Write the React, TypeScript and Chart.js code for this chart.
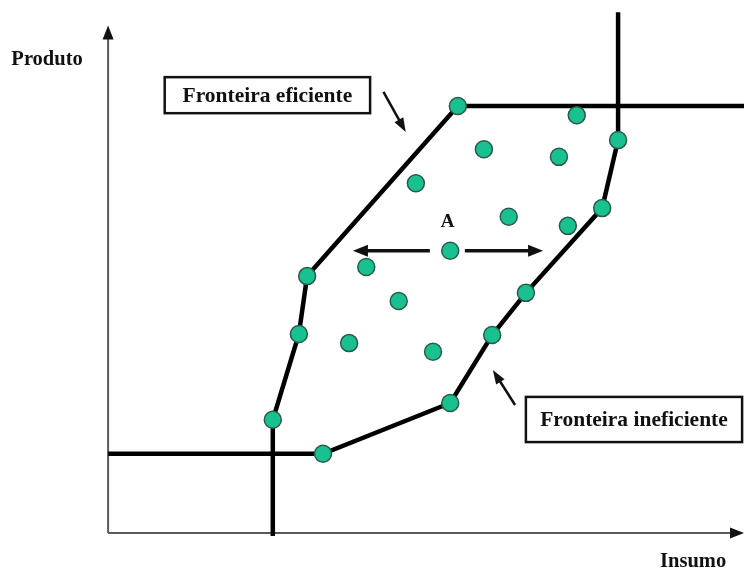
import React, { useEffect, useRef } from "react";
import { Chart, registerables } from "chart.js";

Chart.register(...registerables);

// DMU observations (Insumo, Produto)
const dmuInsumo = [55.0, 73.7, 80.2, 59.1, 70.9, 48.4, 77.7, 63.0, 72.3, 53.8, 31.3, 40.6, 65.7, 45.7, 30.0, 60.4, 37.9, 51.1, 53.8, 25.9, 33.8];
const dmuProduto = [84.1, 82.3, 77.4, 75.6, 74.1, 68.9, 64.0, 62.3, 60.5, 55.6, 50.6, 52.4, 47.3, 45.7, 39.2, 39.0, 37.4, 35.7, 25.6, 22.3, 15.6];

// Efficient frontier path
const efiInsumo = [25.9, 25.9, 30.0, 31.3, 55.0, 100];
const efiProduto = [-0.6, 22.3, 39.2, 50.6, 84.1, 84.1];

// Inefficient frontier path
const inefInsumo = [0, 33.8, 53.8, 60.4, 65.7, 77.7, 80.2, 80.2];
const inefProduto = [15.6, 15.6, 25.6, 39.0, 47.3, 64.0, 77.4, 102.6];

// Axes
const axisXInsumo = [0, 98.5];
const axisXProduto = [0, 0];
const axisYInsumo = [0, 0];
const axisYProduto = [0, 98.8];

// Texts
const axisLabels = [
  { text: "Produto", x: -9.6, y: 93.2 },
  { text: "Insumo", x: 92.0, y: -5.7 },
];
const pointLabel = { text: "A", x: 53.4, y: 61.3 };

const boxes = [
  { text: "Fronteira eficiente", x1: 8.9, y1: 89.8, x2: 41.2, y2: 82.7 },
  { text: "Fronteira ineficiente", x1: 65.7, y1: 26.8, x2: 99.7, y2: 17.9 },
];

// Arrows: [fromX, fromY, toX, toY]
const labelArrows = [
  [43.3, 86.9, 46.8, 79.0],
  [64.0, 25.2, 60.5, 32.1],
];
const doubleArrows = [
  [50.6, 55.6, 38.5, 55.6],
  [56.1, 55.6, 68.4, 55.6],
];
const axisArrowTips = [
  [0, 90, 0, 100],
  [90, 0, 100, 0],
];

const toXY = (xs: number[], ys: number[]) => xs.map((x, i) => ({ x, y: ys[i] }));

function drawArrowHead(ctx: CanvasRenderingContext2D, fx: number, fy: number, tx: number, ty: number, len: number, wid: number) {
  const ang = Math.atan2(ty - fy, tx - fx);
  ctx.save();
  ctx.translate(tx, ty);
  ctx.rotate(ang);
  ctx.beginPath();
  ctx.moveTo(0, 0);
  ctx.lineTo(-len, -wid / 2);
  ctx.lineTo(-len, wid / 2);
  ctx.closePath();
  ctx.fill();
  ctx.restore();
}

const annotPlugin = {
  id: "annot",
  afterDatasetsDraw(chart: any) {
    const ctx: CanvasRenderingContext2D = chart.ctx;
    const xs = chart.scales.x;
    const ys = chart.scales.y;
    const px = (v: number) => xs.getPixelForValue(v);
    const py = (v: number) => ys.getPixelForValue(v);
    ctx.save();
    ctx.fillStyle = "#111";
    ctx.strokeStyle = "#111";

    // axis arrow heads
    for (const a of axisArrowTips) {
      drawArrowHead(ctx, px(a[0]), py(a[1]), px(a[2]), py(a[3]), 14, 11);
    }

    // label arrows
    ctx.lineWidth = 2.5;
    for (const a of labelArrows) {
      const fx = px(a[0]), fy = py(a[1]), tx = px(a[2]), ty = py(a[3]);
      const ang = Math.atan2(ty - fy, tx - fx);
      ctx.beginPath();
      ctx.moveTo(fx, fy);
      ctx.lineTo(tx - Math.cos(ang) * 8, ty - Math.sin(ang) * 8);
      ctx.stroke();
      drawArrowHead(ctx, fx, fy, tx, ty, 14, 10);
    }

    // double arrows
    ctx.lineWidth = 3.5;
    for (const a of doubleArrows) {
      const fx = px(a[0]), fy = py(a[1]), tx = px(a[2]), ty = py(a[3]);
      const ang = Math.atan2(ty - fy, tx - fx);
      ctx.beginPath();
      ctx.moveTo(fx, fy);
      ctx.lineTo(tx - Math.cos(ang) * 10, ty - Math.sin(ang) * 10);
      ctx.stroke();
      drawArrowHead(ctx, fx, fy, tx, ty, 15, 12);
    }

    // boxes
    ctx.lineWidth = 2.5;
    ctx.textAlign = "center";
    ctx.textBaseline = "middle";
    ctx.font = "bold 21.5px 'Liberation Serif', 'DejaVu Serif', serif";
    for (const b of boxes) {
      const x1 = px(b.x1), y1 = py(b.y1), x2 = px(b.x2), y2 = py(b.y2);
      ctx.fillStyle = "#ffffff";
      ctx.fillRect(x1, y1, x2 - x1, y2 - y1);
      ctx.strokeRect(x1, y1, x2 - x1, y2 - y1);
      ctx.fillStyle = "#111";
      ctx.fillText(b.text, (x1 + x2) / 2, (y1 + y2) / 2 + 1);
    }

    ctx.font = "bold 20.5px 'Liberation Serif', 'DejaVu Serif', serif";
    for (const l of axisLabels) {
      ctx.fillText(l.text, px(l.x), py(l.y));
    }
    ctx.font = "bold 19px 'Liberation Serif', 'DejaVu Serif', serif";
    ctx.fillText(pointLabel.text, px(pointLabel.x), py(pointLabel.y));
    ctx.restore();
  },
};

export default function App() {
  const ref = useRef<HTMLCanvasElement | null>(null);
  useEffect(() => {
    if (!ref.current) return;
    const chart = new Chart(ref.current, {
      type: "scatter",
      data: {
        datasets: [
          {
            label: "DMUs",
            data: toXY(dmuInsumo, dmuProduto),
            pointRadius: 8.5,
            pointBorderWidth: 1.5,
            pointBackgroundColor: "#19c190",
            pointBorderColor: "#2b5a4c",
            showLine: false,
          },
          {
            label: "Fronteira eficiente",
            data: toXY(efiInsumo, efiProduto),
            showLine: true,
            borderColor: "#000",
            borderWidth: 4.5,
            pointRadius: 0,
            tension: 0,
          },
          {
            label: "Fronteira ineficiente",
            data: toXY(inefInsumo, inefProduto),
            showLine: true,
            borderColor: "#000",
            borderWidth: 4.5,
            pointRadius: 0,
            tension: 0,
          },
          {
            label: "eixo x",
            data: toXY(axisXInsumo, axisXProduto),
            showLine: true,
            borderColor: "#5a5a5a",
            borderWidth: 2,
            pointRadius: 0,
          },
          {
            label: "eixo y",
            data: toXY(axisYInsumo, axisYProduto),
            showLine: true,
            borderColor: "#5a5a5a",
            borderWidth: 2,
            pointRadius: 0,
          },
        ],
      },
      options: {
        animation: false,
        responsive: false,
        layout: { padding: 0, autoPadding: false },
        plugins: { legend: { display: false }, tooltip: { enabled: false } },
        scales: {
          x: { type: "linear", min: -17, max: 100, display: false },
          y: { type: "linear", min: -7.5, max: 105, display: false },
        },
      },
      plugins: [annotPlugin],
    });
    return () => chart.destroy();
  }, []);
  return (
    <div style={{ position: "absolute", left: 0, top: 0, width: 744, height: 571, background: "#fff" }}>
      <canvas ref={ref} width={744} height={571} />
    </div>
  );
}
